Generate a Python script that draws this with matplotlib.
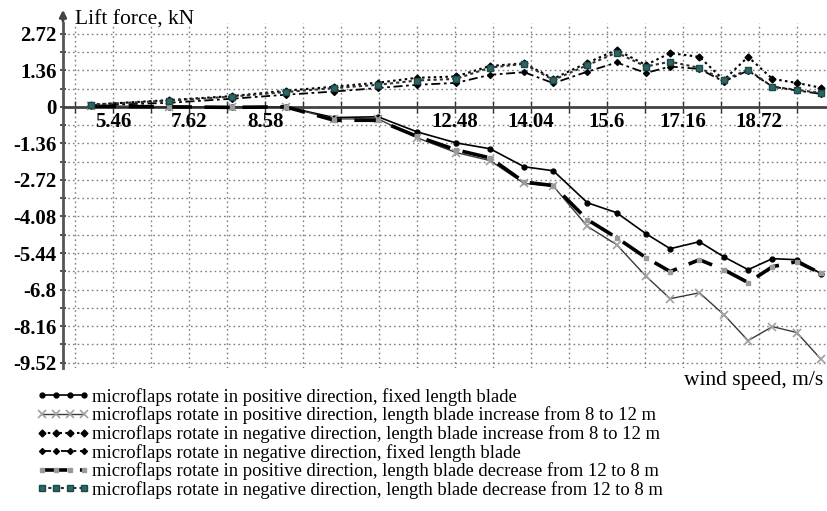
import matplotlib
matplotlib.use("Agg")
import matplotlib.pyplot as plt
from matplotlib.lines import Line2D

plt.rcParams['font.family'] = ['Liberation Serif', 'DejaVu Serif']

# wind speed, m/s
wind_speed = [5.0, 6.6, 7.9, 9.0, 10.0, 10.9, 11.7, 12.5, 13.2, 13.9, 14.5,
              15.2, 15.8, 16.4, 16.9, 17.5, 18.0, 18.5, 19.0, 19.5, 20.0]

# lift force, kN
pos_fixed = [0.02, 0.0, -0.02, 0.0, -0.4, -0.37, -0.93, -1.34, -1.56, -2.23, -2.38,
             -3.57, -3.94, -4.72, -5.28, -5.02, -5.58, -6.06, -5.65, -5.69, -6.21]
pos_increase = [0.02, 0.0, -0.02, 0.0, -0.45, -0.45, -1.15, -1.7, -2.0, -2.85, -2.95,
                -4.45, -5.13, -6.3, -7.14, -6.92, -7.73, -8.7, -8.18, -8.4, -9.4]
neg_increase = [0.08, 0.25, 0.4, 0.6, 0.75, 0.9, 1.08, 1.13, 1.52, 1.62, 1.05,
                1.64, 2.12, 1.56, 2.0, 1.86, 1.0, 1.86, 1.04, 0.89, 0.71]
neg_fixed = [0.05, 0.15, 0.3, 0.45, 0.57, 0.7, 0.82, 0.89, 1.19, 1.29, 0.88,
             1.31, 1.65, 1.26, 1.5, 1.41, 0.94, 1.35, 0.75, 0.61, 0.48]
pos_decrease = [0.02, 0.0, -0.02, 0.0, -0.5, -0.5, -1.1, -1.6, -1.9, -2.8, -2.93,
                -4.2, -4.87, -5.61, -6.13, -5.69, -6.06, -6.54, -5.95, -5.76, -6.2]
neg_decrease = [0.08, 0.23, 0.38, 0.55, 0.7, 0.82, 0.98, 1.04, 1.46, 1.6, 1.0,
                1.55, 2.02, 1.5, 1.68, 1.45, 1.0, 1.38, 0.75, 0.63, 0.52]

labels = [
    "microflaps rotate in positive direction, fixed length blade",
    "microflaps rotate in positive direction, length blade increase from 8 to 12 m",
    "microflaps rotate in negative direction, length blade increase from 8 to 12 m",
    "microflaps rotate in negative direction, fixed length blade",
    "microflaps rotate in positive direction, length blade decrease from 12 to 8 m",
    "microflaps rotate in negative direction, length blade decrease from 12 to 8 m",
]

x_grid = [4.68 + 0.78 * k for k in range(20)]
x_labelled = {5.46: "5.46", 7.02: "7.62", 8.58: "8.58", 12.48: "12.48",
              14.04: "14.04", 15.6: "15.6", 17.16: "17.16", 18.72: "18.72"}
y_ticks = [2.72, 1.36, 0, -1.36, -2.72, -4.08, -5.44, -6.8, -8.16, -9.52]
y_tick_text = ["2.72", "1.36", "0", "-1.36", "-2.72", "-4.08", "-5.44", "-6.8", "-8.16", "-9.52"]

fig = plt.figure(figsize=(8.28, 5.11), dpi=100)
ax = fig.add_axes([63 / 828, 1 - 368 / 511, 763 / 828, 345 / 511])

styles = [
    dict(color='black', ls='-', lw=1.2, marker='o', ms=3.5, mfc='black', mec='black'),
    dict(color='#3a3a3a', ls='-', lw=1.0, marker='x', ms=6, mec='#a0a0a0', mew=1.2),
    dict(color='black', ls=(0, (1.2, 1.6)), lw=1.5, marker='D', ms=3.5, mfc='black', mec='black'),
    dict(color='black', ls=(0, (5, 2, 1.5, 2)), lw=1.3, marker='D', ms=3, mfc='black', mec='black'),
    dict(color='black', ls=(0, (7, 3.5)), lw=2.6, marker='s', ms=3, mfc='#9a9a9a', mec='#9a9a9a'),
    dict(color='#303030', ls=(0, (1.5, 1.5)), lw=1.5, marker='s', ms=4, mfc='#2d6666', mec='#1e4848'),
]
series = [pos_fixed, pos_increase, neg_increase, neg_fixed, pos_decrease, neg_decrease]
draw_order = [2, 5, 3, 1, 4, 0]
for i in draw_order:
    ax.plot(wind_speed, series[i], zorder=3 + i * 0.1, **styles[i])

ax.set_xlim(4.43, 20.1)
ax.set_ylim(-9.72, 3.12)

# grid
ax.set_xticks(x_grid)
ax.set_xticklabels(['' for _ in x_grid])
ax.set_yticks([v * 0.68 for v in range(-14, 5)], minor=True)
ax.set_yticks(y_ticks)
ax.set_yticklabels(y_tick_text, fontsize=15, fontweight='bold')
ax.grid(True, which='both', color='#808080', ls=(0, (1.2, 2.2)), lw=1.0)
for xv, txt in x_labelled.items():
    ax.text(xv, -0.2, txt, ha='center', va='top', fontsize=15, fontweight='bold', zorder=5)

for s in ['top', 'right']:
    ax.spines[s].set_visible(False)
ax.spines['bottom'].set_position(('data', 0))
ax.spines['bottom'].set_color('#444444')
ax.spines['bottom'].set_linewidth(2)
ax.spines['left'].set_color('#555555')
ax.spines['left'].set_linewidth(2)
ax.tick_params(axis='x', direction='inout', length=8, width=1, color='#333333')
ax.tick_params(axis='y', which='both', direction='inout', length=5, width=1.2,
               color='#333333', pad=2)

ax.annotate('', xy=(63 / 828, 1 - 7 / 511), xytext=(63 / 828, 1 - 24 / 511),
            xycoords='figure fraction',
            arrowprops=dict(arrowstyle='-|>', color='#444444', lw=2, mutation_scale=10))

fig.text(75 / 828, 1 - 20 / 511, "Lift force, kN", fontsize=15.5, va='center', ha='left')
fig.text(823 / 828, 1 - 380 / 511, "wind speed, m/s", fontsize=15.5, va='center', ha='right')

handles = [Line2D([], [], **st) for st in styles]
fig.legend(handles, labels, loc='upper left', bbox_to_anchor=(36 / 828, 1 - 388 / 511),
           frameon=False, fontsize=13.4, handlelength=2.9, handletextpad=0.1,
           labelspacing=0.04, borderpad=0, borderaxespad=0, numpoints=4)

fig.savefig('out.png', dpi=100)
